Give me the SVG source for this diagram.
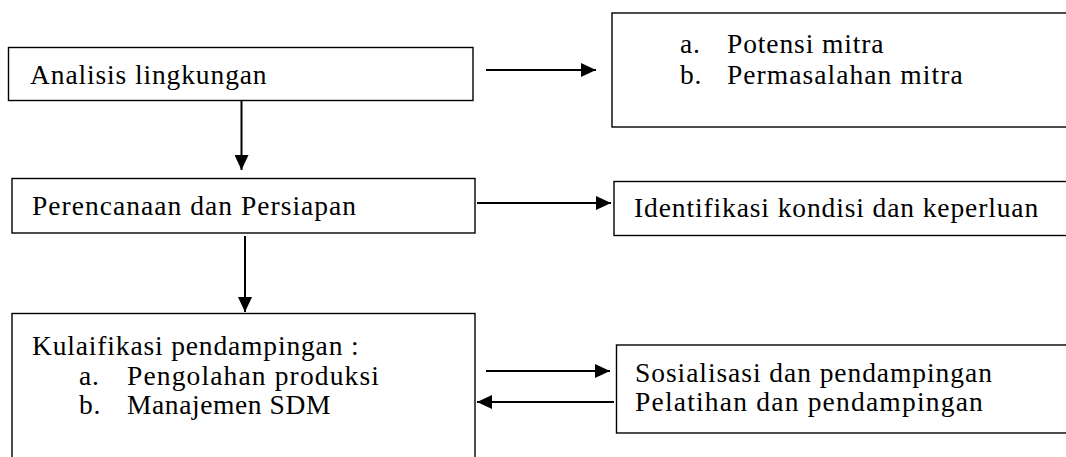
<svg xmlns="http://www.w3.org/2000/svg" width="1066" height="457" viewBox="0 0 1066 457">
<style>
.box{fill:#fff;stroke:#000;stroke-width:1.4}
.t{font-family:"Liberation Serif","Times New Roman",serif;font-size:27.5px;fill:#000}
.c{stroke:#000;stroke-width:2;fill:none;marker-end:url(#ah)}
</style>
<defs>
<marker id="ah" markerUnits="userSpaceOnUse" markerWidth="16" markerHeight="14" refX="15" refY="7" orient="auto" viewBox="0 0 16 14">
<path d="M0,0 L15,7 L0,14 z" fill="#000"/>
</marker>
</defs>
<rect width="1066" height="457" fill="#fff"/>
<g id="connectors">
<line class="c" x1="486" y1="70" x2="596" y2="70"/>
<line class="c" x1="477" y1="203" x2="611" y2="203"/>
<line class="c" x1="486" y1="371" x2="610" y2="371"/>
<line class="c" x1="614" y1="402" x2="477" y2="402"/>
<line class="c" x1="241.5" y1="100" x2="241.5" y2="170"/>
<line class="c" x1="245" y1="236" x2="245" y2="312"/>
</g>
<g id="analisis">
<rect class="box" x="8.5" y="47.5" width="464.5" height="53"/>
<text class="t" x="30" y="84" textLength="236.6" lengthAdjust="spacing">Analisis lingkungan</text>
</g>
<g id="potensi">
<rect class="box" x="612" y="13" width="470" height="114"/>
<text class="t" x="680" y="53" textLength="19.9" lengthAdjust="spacing">a.</text>
<text class="t" x="727" y="53" textLength="156.5" lengthAdjust="spacing">Potensi mitra</text>
<text class="t" x="680" y="84" textLength="21.3" lengthAdjust="spacing">b.</text>
<text class="t" x="727" y="84" textLength="235.6" lengthAdjust="spacing">Permasalahan mitra</text>
</g>
<g id="perencanaan">
<rect class="box" x="12" y="178.5" width="463" height="54.5"/>
<text class="t" x="32" y="215" textLength="324.1" lengthAdjust="spacing">Perencanaan dan Persiapan</text>
</g>
<g id="identifikasi">
<rect class="box" x="614" y="181.5" width="470" height="54"/>
<text class="t" x="634" y="217" textLength="404.2" lengthAdjust="spacing">Identifikasi kondisi dan keperluan</text>
</g>
<g id="kualifikasi">
<rect class="box" x="12" y="313.5" width="463" height="160"/>
<text class="t" x="32" y="355" textLength="326.6" lengthAdjust="spacing">Kulaifikasi pendampingan :</text>
<text class="t" x="79" y="385" textLength="19.9" lengthAdjust="spacing">a.</text>
<text class="t" x="127" y="385" textLength="251.9" lengthAdjust="spacing">Pengolahan produksi</text>
<text class="t" x="79" y="414" textLength="21.3" lengthAdjust="spacing">b.</text>
<text class="t" x="127" y="414" textLength="203.4" lengthAdjust="spacing">Manajemen SDM</text>
</g>
<g id="sosialisasi">
<rect class="box" x="616.5" y="345" width="470" height="88"/>
<text class="t" x="635" y="382" textLength="356.9" lengthAdjust="spacing">Sosialisasi dan pendampingan</text>
<text class="t" x="635" y="411" textLength="347.8" lengthAdjust="spacing">Pelatihan dan pendampingan</text>
</g>
</svg>
